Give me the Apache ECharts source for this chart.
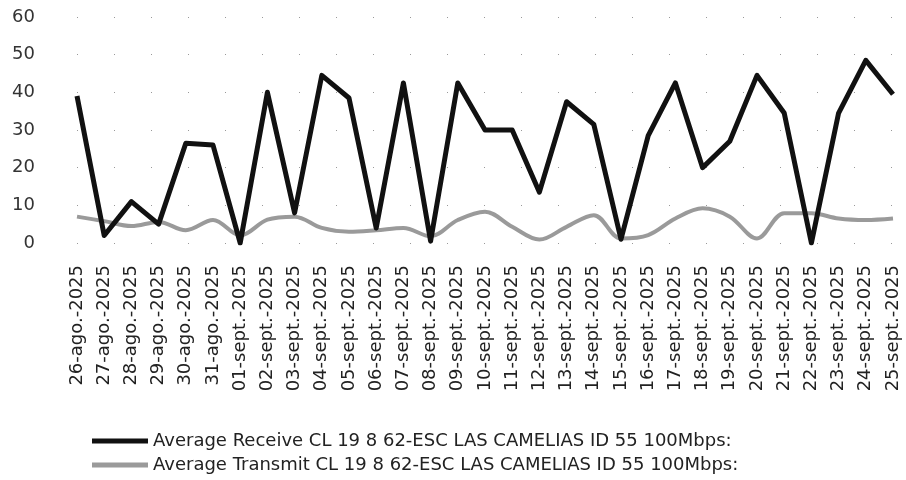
<!DOCTYPE html>
<html>
<head>
<meta charset="utf-8">
<style>
  html, body { margin: 0; padding: 0; background: #fff; }
  #chart { width: 906px; height: 480px; }
</style>
<script src="https://cdn.jsdelivr.net/npm/echarts@6/dist/echarts.min.js"></script>
</head>
<body>
<div id="chart"></div>
<script>
// Daily dates on the category axis
const dates = [
  '26-ago.-2025', '27-ago.-2025', '28-ago.-2025', '29-ago.-2025', '30-ago.-2025', '31-ago.-2025',
  '01-sept.-2025', '02-sept.-2025', '03-sept.-2025', '04-sept.-2025', '05-sept.-2025',
  '06-sept.-2025', '07-sept.-2025', '08-sept.-2025', '09-sept.-2025', '10-sept.-2025',
  '11-sept.-2025', '12-sept.-2025', '13-sept.-2025', '14-sept.-2025', '15-sept.-2025',
  '16-sept.-2025', '17-sept.-2025', '18-sept.-2025', '19-sept.-2025', '20-sept.-2025',
  '21-sept.-2025', '22-sept.-2025', '23-sept.-2025', '24-sept.-2025', '25-sept.-2025'
];

// Average receive traffic (Mbps)
const receiveValues = [
  39, 2, 11, 5, 26.5, 26, 0, 40, 8, 44.5, 38.5,
  4, 42.5, 0.5, 42.5, 30, 30, 13.5, 37.5, 31.5, 1,
  28.5, 42.5, 20, 27, 44.5, 34.5, 0, 34.5, 48.5, 39.5
];

// Average transmit traffic (Mbps)
const transmitValues = [
  7, 5.8, 4.5, 5.6, 3.4, 6.1, 2, 6.2, 7, 4, 3,
  3.4, 4, 1.8, 6.1, 8.3, 4.3, 0.9, 4.3, 7.4, 1.2,
  2.1, 6.5, 9.2, 7, 1.2, 7.9, 7.9, 6.5, 6.1, 6.5
];

// Value axis ticks
const yMin = 0;
const yMax = 60;
const yStep = 10;

const seriesNames = [
  'Average Receive CL 19 8 62-ESC LAS CAMELIAS ID 55 100Mbps:',
  'Average Transmit CL 19 8 62-ESC LAS CAMELIAS ID 55 100Mbps:'
];

const FONT = '"DejaVu Sans", Verdana, sans-serif';

// Shared look of the two stacked legend rows
const legendBase = {
  left: 87,
  itemWidth: 56,
  itemHeight: 5,
  itemGap: 4,
  icon: 'rect',
  selectedMode: false,
  textStyle: { fontFamily: FONT, fontSize: 18, color: '#222' }
};

const chart = echarts.init(document.getElementById('chart'), null, { renderer: 'canvas' });

chart.setOption({
  animation: false,
  backgroundColor: '#ffffff',
  grid: { left: 77, right: 13, top: 17, bottom: 237, containLabel: false },
  legend: [
    Object.assign({}, legendBase, { top: 427, data: [seriesNames[0]] }),
    Object.assign({}, legendBase, { top: 451, data: [seriesNames[1]] })
  ],
  xAxis: {
    type: 'category',
    data: dates,
    boundaryGap: false,
    axisLine: { show: false },
    axisTick: { show: false },
    splitLine: { show: false },
    axisLabel: {
      interval: 0,
      rotate: 90,
      margin: 22,
      fontFamily: FONT,
      fontSize: 18,
      color: '#222'
    }
  },
  yAxis: {
    type: 'value',
    min: yMin,
    max: yMax,
    interval: yStep,
    axisLine: { show: false },
    axisTick: { show: false },
    axisLabel: {
      margin: 42,
      fontFamily: FONT,
      fontSize: 18,
      color: '#333'
    },
    splitLine: {
      show: true,
      lineStyle: { color: '#999', width: 1, type: [1, 36] }
    }
  },
  series: [
    {
      name: seriesNames[0],
      type: 'line',
      data: receiveValues,
      showSymbol: false,
      symbol: 'none',
      lineStyle: { color: '#111', width: 5, join: 'round' },
      itemStyle: { color: '#111' },
      z: 3
    },
    {
      name: seriesNames[1],
      type: 'line',
      data: transmitValues,
      smooth: 0.35,
      showSymbol: false,
      symbol: 'none',
      lineStyle: { color: '#9a9a9a', width: 4 },
      itemStyle: { color: '#9a9a9a' },
      z: 2
    }
  ]
});
</script>
</body>
</html>
